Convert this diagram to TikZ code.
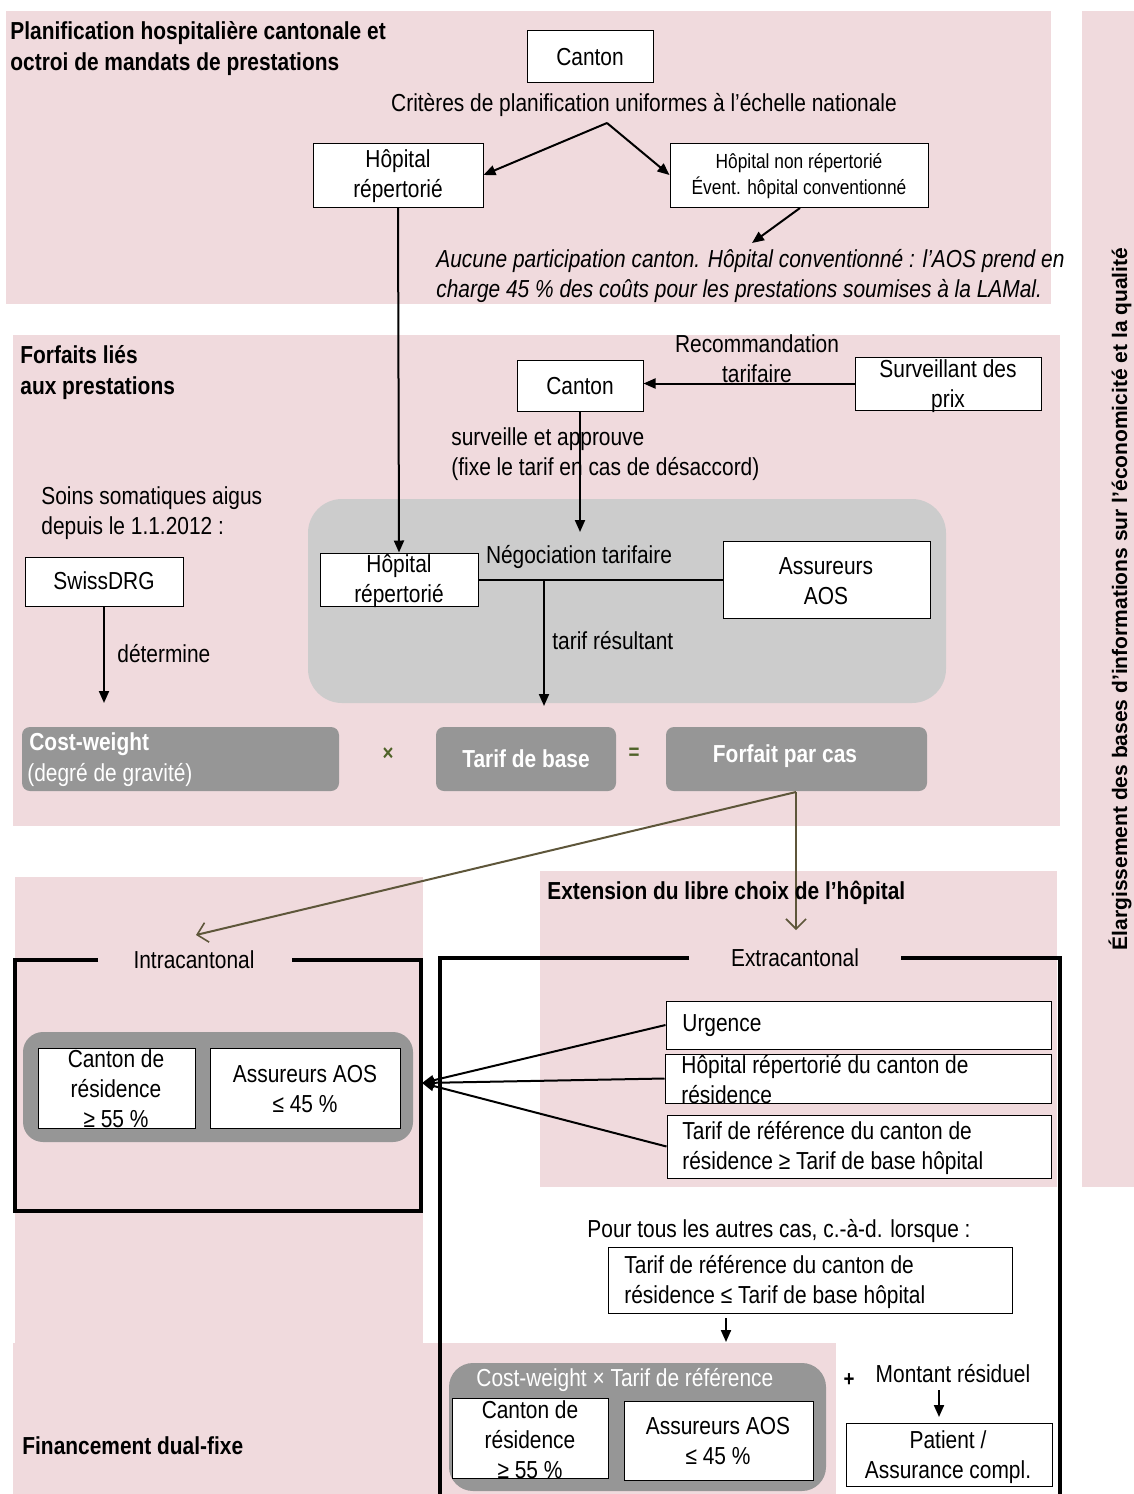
\documentclass[tikz,border=0pt]{standalone}
\usepackage{fontspec}
\setmainfont[FakeStretch=0.85]{Liberation Sans}
\newfontfamily\sidefont{Liberation Sans}
\usetikzlibrary{arrows.meta}
\definecolor{pinkbg}{RGB}{240,218,221}
\definecolor{lgray}{RGB}{204,204,204}
\definecolor{dgray}{RGB}{150,150,150}
\definecolor{olivec}{RGB}{79,98,40}
\definecolor{brownc}{RGB}{94,86,58}
\tikzset{
  wbox/.style={draw=black, line width=0.5pt, fill=white, inner sep=0pt},
  txt/.style={font=\fontsize{12.3}{15}\selectfont, align=center, inner sep=0pt},
  ltxt/.style={font=\fontsize{12.3}{15}\selectfont, align=left, inner sep=0pt, anchor=west},
  ttl/.style={font=\bfseries\fontsize{12.3}{15.5}\selectfont, align=left, inner sep=0pt, anchor=west},
  wtxt/.style={font=\bfseries\fontsize{12.3}{15}\selectfont, text=white, inner sep=0pt},
  arr/.style={line width=1pt, -{Triangle[length=6pt,width=5pt]}},
  barr/.style={draw=brownc, line width=1pt, -{Straight Barb[length=5pt,width=10pt,line width=0.8pt]}},
  frame/.style={line width=2pt},
}
\newcommand\mkbox[5]{\node[wbox, minimum width={(#4-#2)*0.5pt}, minimum height={(#5-#3)*0.5pt}] (#1) at ({(#2+#4)/2},{(#3+#5)/2}) {};}
\begin{document}
\begin{tikzpicture}[x=0.5pt,y=-0.5pt]
\useasboundingbox (0,0) rectangle (1134,1494);
% backgrounds
\fill[pinkbg] (6,11) rectangle (1051,304);
\fill[pinkbg] (13,335) rectangle (1060,826);
\fill[pinkbg] (15,877) rectangle (423,1345);
\fill[pinkbg] (13,1343) rectangle (836,1494);
\fill[pinkbg] (540,871) rectangle (1057,1187);
\fill[pinkbg] (1082,11) rectangle (1134,1187);
\fill[lgray, rounded corners=17pt] (308,499) rectangle (946,703);
\fill[dgray, rounded corners=10pt] (23,1032) rectangle (413,1142);
\fill[dgray, rounded corners=12pt] (449,1363) rectangle (826,1491);

% sidebar
\node[font=\sidefont\bfseries\fontsize{10.5}{12}\selectfont, rotate=90, inner sep=0pt] (side) at (1120,599) {Élargissement des bases d’informations sur l’économicité et la qualité};

% Panel 1
\node[ttl] (t1) at (10,49) {Planification hospitalière cantonale et\\octroi de mandats de prestations};
\mkbox{canton1}{527}{30}{653}{82}
\node[txt] at (590,57) {Canton};
\node[txt] (crit) at (644,105) {Critères de planification uniformes à l’échelle nationale};
\coordinate (apex) at (607,123);
\mkbox{hop1}{313}{143}{483}{207}
\node[txt] at (398,176) {Hôpital\\répertorié};
\mkbox{hnr}{670}{143}{928}{207}
\node[txt, font=\fontsize{10.2}{13}\selectfont] at (799,176) {Hôpital non répertorié\\Évent. hôpital conventionné};
\draw[arr] (apex) -- (hop1.east);
\draw[arr] (apex) -- (hnr.west);
\coordinate (ital) at (752,243);
\draw[arr] (800,208) -- (ital);
\node[ltxt, font=\itshape\fontsize{12.3}{15}\selectfont] (auc) at (436,276) {Aucune participation canton. Hôpital conventionné : l’AOS prend en\\charge 45 \% des coûts pour les prestations soumises à la LAMal.};

% Panel 2
\node[ttl] (t2) at (20,373) {Forfaits liés\\aux prestations};
\mkbox{canton2}{517}{360}{643}{411}
\node[txt] at (580,386) {Canton};
\mkbox{sdp}{855}{357}{1041}{410}
\node[txt] at (948,386) {Surveillant des\\prix};
\node[txt] (reco) at (757,359) {Recommandation\\tarifaire};
\draw[arr] (sdp.west) -- (sdp.west -| canton2.east);
\node[ltxt] (surv) at (451,454) {surveille et approuve\\(fixe le tarif en cas de désaccord)};
\coordinate (neg) at (580,532);
\draw[arr] (canton2.south) -- (neg);
\node[ltxt] (soins) at (41,513) {Soins somatiques aigus\\depuis le 1.1.2012 :};
\mkbox{hop2}{320}{553}{478}{606}
\node[txt] at (399,581) {Hôpital\\répertorié};
\mkbox{ass}{723}{541}{930}{618}
\node[txt] at (826,581) {Assureurs\\AOS};
\draw[line width=1pt] (hop2.east) -- (ass.west);
\node[txt] (negl) at (579,557) {Négociation tarifaire};
\draw[arr] (hop1.south) -- (hop2.north);
\coordinate (tr1) at (544,580);
\coordinate (tr2) at (544,706);
\draw[arr] (tr1) -- (tr2);
\node[ltxt] (tres) at (552,641) {tarif résultant};
\mkbox{drg}{25}{557}{183}{606}
\node[txt] at (104,581) {SwissDRG};
\coordinate (det) at (104,703);
\draw[arr] (drg.south) -- (det);
\node[ltxt] (detl) at (117,654) {détermine};
\fill[dgray, rounded corners=4pt] (22,727) rectangle (339,791);
\node[inner sep=0pt, minimum width=158.5pt, minimum height=32pt] (cw) at (180.5,759) {};
\node[wtxt, anchor=west] at (29,744) {Cost-weight};
\node[txt, anchor=west, text=white] at (27,775) {(degré de gravité)};
\node[font=\bfseries\fontsize{11}{13}\selectfont, text=olivec, inner sep=0pt] (times) at (388,754) {×};
\fill[dgray, rounded corners=4pt] (436,727) rectangle (616,791);
\node[inner sep=0pt, minimum width=90pt, minimum height=32pt] (tdb) at (526,759) {};
\node[wtxt] at (526,759) {Tarif de base};
\node[font=\bfseries\fontsize{11}{13}\selectfont, text=olivec, inner sep=0pt] (eq) at (634,754) {=};
\fill[dgray, rounded corners=4pt] (666,727) rectangle (927,791);
\node[inner sep=0pt, minimum width=130.5pt, minimum height=32pt] (fpc) at (796.5,759) {};
\node[wtxt] at (785,756) {Forfait par cas};

% bottom arrows
\coordinate (fp) at (796,792);
\coordinate (intraA) at (196,935);
\coordinate (extraA) at (796,930);
\draw[barr] (fp) -- (intraA);
\draw[barr] (fp) -- (extraA);

% Intracantonal
\draw[frame] (98,960) -- (15,960) -- (15,1211) -- (421,1211) -- (421,960) -- (292,960);
\node[txt] (intra) at (194,960) {Intracantonal};
\mkbox{cr1}{38}{1048}{195}{1128}
\node[txt] at (116,1089) {Canton de\\résidence\\≥ 55 \%};
\mkbox{as1}{210}{1048}{400}{1128}
\node[txt] at (305,1089) {Assureurs AOS\\≤ 45 \%};

% Extracantonal
\node[ttl, font=\bfseries\fontsize{12.3}{14}\selectfont] (ext) at (547,893) {Extension du libre choix de l’hôpital};
\draw[frame] (689,958) -- (440,958) -- (440,1496);
\draw[frame] (901,958) -- (1060,958) -- (1060,1496);
\node[txt] (extra) at (795,958) {Extracantonal};
\mkbox{urg}{666}{1001}{1051}{1049}
\node[ltxt] at (682,1026) {Urgence};
\mkbox{hrc}{665}{1054}{1051}{1103}
\node[ltxt] at (681,1080) {Hôpital répertorié du canton de\\résidence};
\mkbox{trc}{667}{1115}{1051}{1178}
\node[ltxt] at (682,1148) {Tarif de référence du canton de\\résidence ≥ Tarif de base hôpital};
\coordinate (conv) at (422,1083);
\draw[arr] (urg.west) -- (conv);
\draw[arr] (hrc.west) -- (conv);
\draw[arr] (trc.west) -- (conv);

\node[txt] (pour) at (779,1231) {Pour tous les autres cas, c.-à-d. lorsque :};
\mkbox{trb}{608}{1247}{1012}{1313}
\node[ltxt] at (624,1282) {Tarif de référence du canton de\\résidence ≤ Tarif de base hôpital};
\coordinate (trbs) at (726,1318);
\coordinate (cwt) at (726,1342);
\draw[arr] (trbs) -- (cwt);
\node[txt, anchor=west, text=white] (cwx) at (476,1380) {Cost-weight × Tarif de référence};
\mkbox{cr2}{452}{1398}{608}{1478}
\node[txt] at (530,1440) {Canton de\\résidence\\≥ 55 \%};
\mkbox{as2}{624}{1401}{813}{1480}
\node[txt] at (718,1441) {Assureurs AOS\\≤ 45 \%};
\node[font=\bfseries\fontsize{11}{13}\selectfont, inner sep=0pt] (plus) at (849,1380) {+};
\node[txt] (mont) at (953,1374) {Montant résiduel};
\mkbox{pat}{846}{1423}{1052}{1486}
\node[txt] at (948,1457) {Patient /\\Assurance compl.};
\coordinate (m1) at (939,1390);
\coordinate (m2) at (939,1417);
\draw[arr] (m1) -- (m2);
\node[ttl] (fin) at (22,1446) {Financement dual-fixe};
\end{tikzpicture}
\end{document}
